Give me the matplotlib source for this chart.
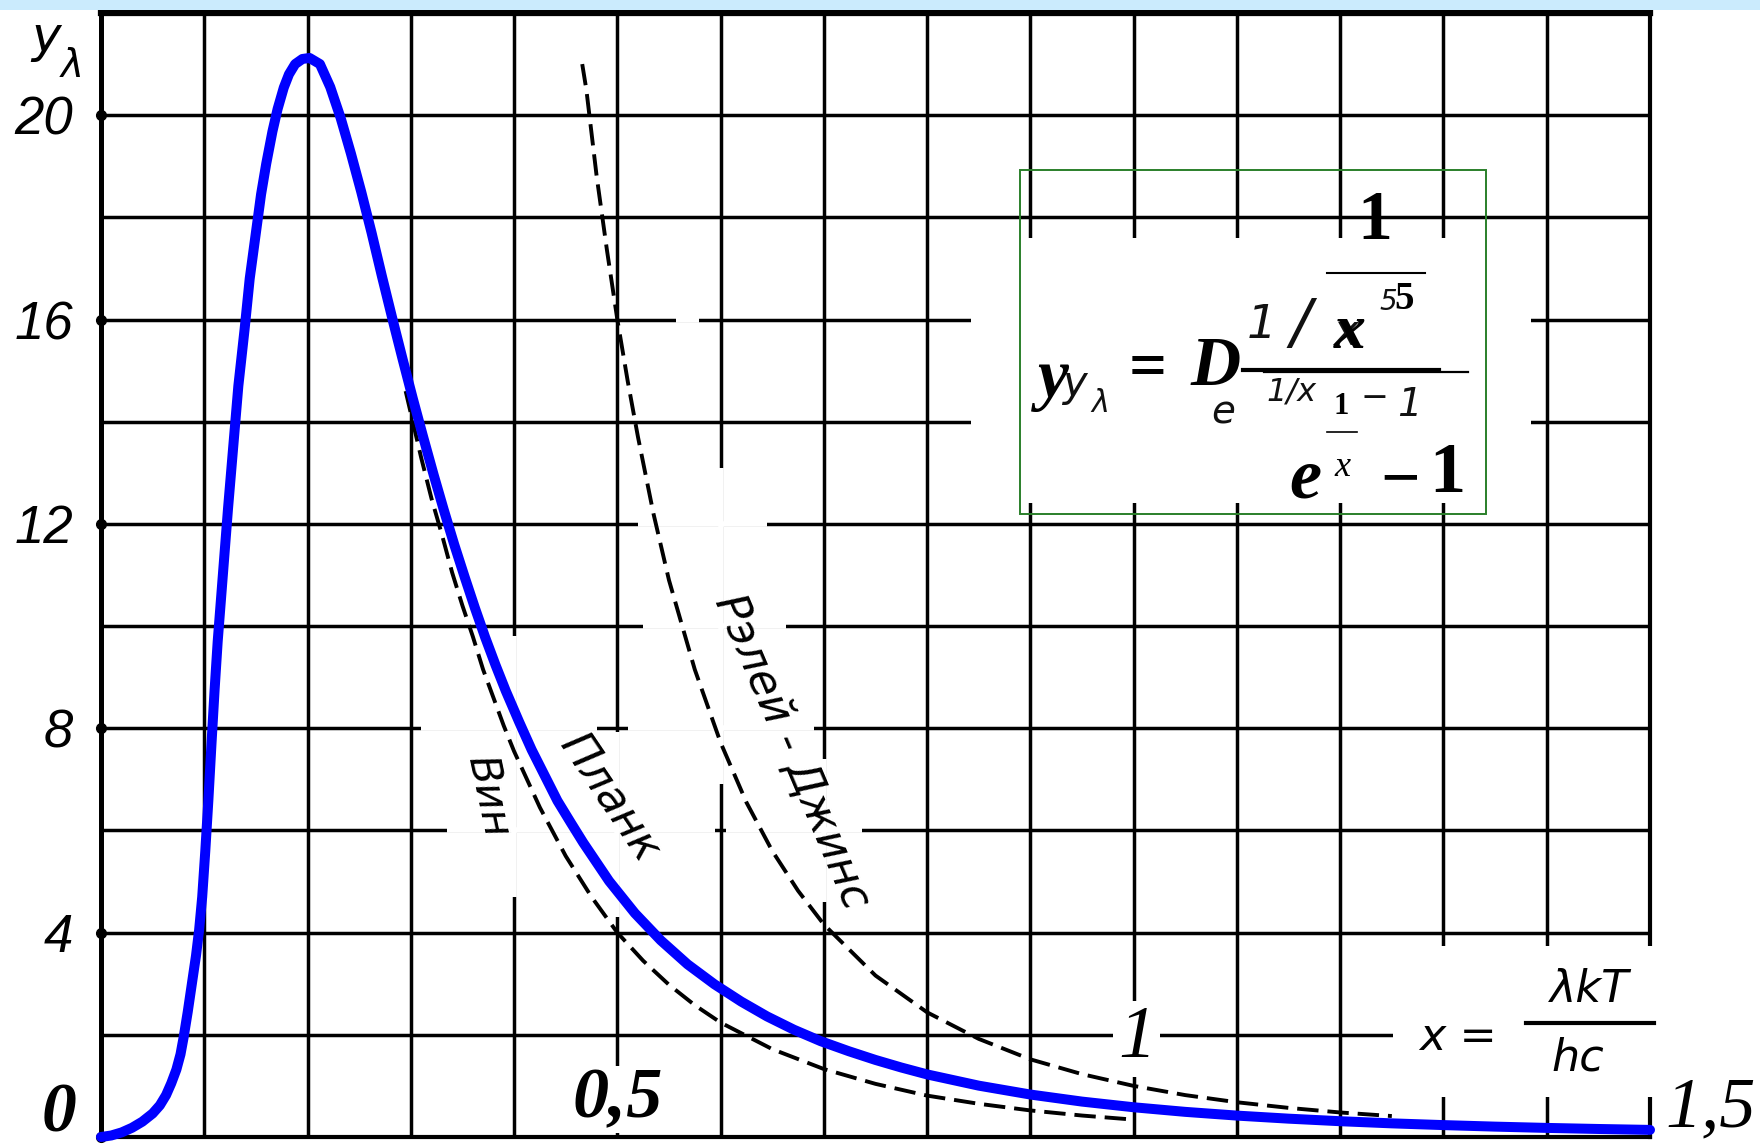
import matplotlib
matplotlib.use("Agg")
import matplotlib.pyplot as plt
from matplotlib.patches import Rectangle
from matplotlib.lines import Line2D

# ── data ─────────────────────────────────────────────────────────────────────
planck_x = [0.000, 0.010, 0.020, 0.030, 0.040, 0.050, 0.057, 0.063, 0.068, 0.073,
            0.077, 0.080, 0.084, 0.088, 0.092, 0.095, 0.098, 0.101, 0.104, 0.107,
            0.110, 0.113, 0.118, 0.123, 0.128, 0.133, 0.139, 0.144, 0.150, 0.155,
            0.160, 0.166, 0.171, 0.177, 0.182, 0.188, 0.195, 0.202, 0.212, 0.222,
            0.232, 0.242, 0.252, 0.262, 0.272, 0.282, 0.292, 0.302, 0.312, 0.322,
            0.332, 0.342, 0.352, 0.362, 0.372, 0.382, 0.392, 0.405, 0.417, 0.430,
            0.442, 0.455, 0.467, 0.480, 0.492, 0.517, 0.542, 0.568, 0.594, 0.620,
            0.645, 0.671, 0.697, 0.724, 0.750, 0.775, 0.800, 0.850, 0.900, 0.950,
            1.000, 1.050, 1.100, 1.150, 1.200, 1.250, 1.300, 1.350, 1.400, 1.450,
            1.500]
planck_y = [0.00, 0.03, 0.09, 0.18, 0.30, 0.46, 0.62, 0.82, 1.05, 1.32,
            1.62, 1.95, 2.45, 3.00, 3.55, 4.05, 4.70, 5.60, 6.60, 7.70,
            8.75, 9.70, 11.0, 12.3, 13.5, 14.7, 15.8, 16.8, 17.7, 18.45,
            19.05, 19.68, 20.12, 20.54, 20.8, 21.0, 21.1, 21.12, 21.0, 20.55,
            19.95, 19.25, 18.5, 17.7, 16.85, 16.03, 15.23, 14.45, 13.7, 12.97,
            12.27, 11.6, 10.97, 10.36, 9.78, 9.24, 8.73, 8.12, 7.58, 7.06,
            6.58, 6.15, 5.76, 5.37, 5.01, 4.38, 3.85, 3.38, 2.99, 2.65,
            2.36, 2.10, 1.875, 1.68, 1.508, 1.36, 1.225, 1.005, 0.831, 0.693,
            0.582, 0.492, 0.419, 0.359, 0.309, 0.267, 0.233, 0.203, 0.178, 0.157,
            0.139]

wien_x = [0.295, 0.310, 0.320, 0.330, 0.340, 0.350, 0.360, 0.370, 0.380, 0.390,
          0.400, 0.425, 0.450, 0.475, 0.500, 0.525, 0.550, 0.575, 0.600, 0.650,
          0.700, 0.750, 0.800, 0.850, 0.900, 0.950, 1.000]
wien_y = [14.6, 13.3, 12.5, 11.8, 11.05, 10.4, 9.8, 9.15, 8.6, 8.05,
          7.55, 6.45, 5.5, 4.7, 4.0, 3.45, 2.98, 2.58, 2.24, 1.72,
          1.33, 1.04, 0.81, 0.65, 0.52, 0.42, 0.34]

rj_x = [0.466, 0.470, 0.480, 0.490, 0.500, 0.510, 0.520, 0.535, 0.550, 0.575,
        0.600, 0.625, 0.650, 0.675, 0.700, 0.750, 0.800, 0.850, 0.900, 0.950,
        1.000, 1.050, 1.100, 1.150, 1.200, 1.250]
rj_y = [21.0, 20.5, 18.8, 17.35, 16.0, 14.8, 13.7, 12.2, 10.9, 9.15,
        7.72, 6.55, 5.6, 4.82, 4.16, 3.16, 2.44, 1.92, 1.52, 1.23,
        1.00, 0.82, 0.68, 0.57, 0.48, 0.41]

x_grid = [i / 10 for i in range(16)]
y_grid = list(range(0, 23, 2))
y_labels = ["", "", "4", "", "8", "", "12", "", "16", "", "20", ""]
y_dots = [0, 4, 8, 12, 16, 20]
x_label_vals = [0.5, 1.0, 1.5]
x_label_txt = ["0,5", "1", "1,5"]

# pieces of the scanned grid that are missing around the curve labels
gaps_h = [(6, 0.335, 0.595), (6, 0.605, 0.737), (8, 0.31, 0.48), (8, 0.51, 0.69),
          (10, 0.525, 0.663), (12, 0.52, 0.645), (16, 0.557, 0.579)]
gaps_v = [(0.4, 4.7, 9.8), (0.5, 4.3, 7.93), (0.6, 6.9, 13.1), (0.7, 4.6, 7.4)]

# ── figure ────────────────────────────────────────────────────────────────────
W, H = 1760, 1145
fig = plt.figure(figsize=(W / 100, H / 100), dpi=100)
fig.patch.set_facecolor("white")


def fx(p):
    return p / W


def fy(p):
    return 1 - p / H


def ftext(px, py, s, **kw):
    kw.setdefault("ha", "center")
    kw.setdefault("va", "center")
    kw.setdefault("color", "black")
    return fig.text(fx(px), fy(py), s, **kw)


def fline(x0, x1, y, lw):
    fig.add_artist(Line2D([fx(x0), fx(x1)], [fy(y), fy(y)], transform=fig.transFigure,
                          color="black", lw=lw, zorder=6))


# light blue strip on top
fig.add_artist(Rectangle((0, fy(10)), 1, 10 / H, transform=fig.transFigure,
                         facecolor="#CBEBFD", edgecolor="none"))

ax = fig.add_axes([fx(101), fy(1137), fx(1650) - fx(101), fy(13) - fy(1137)])
ax.set_xlim(0, 1.5)
ax.set_ylim(0, 22)
ax.set_facecolor("white")

# grid
GRID_LW = 2.5
ax.set_xticks(x_grid)
ax.set_yticks(y_grid)
ax.set_yticklabels(y_labels, fontfamily="Liberation Sans", fontstyle="italic", fontsize=38)
ax.tick_params(axis="both", length=0)
ax.tick_params(axis="x", labelbottom=False)
ax.tick_params(axis="y", pad=20)
ax.grid(True, color="black", lw=GRID_LW)
ax.set_axisbelow(True)
for side, w in [("left", 3.6), ("bottom", 3.0), ("top", 4.5), ("right", 3.0)]:
    ax.spines[side].set_linewidth(w)
    ax.spines[side].set_color("black")

ax.plot([0] * len(y_dots), y_dots, "o", color="black", ms=7, clip_on=False, zorder=3)

for yv, x0, x1 in gaps_h:
    ax.plot([x0, x1], [yv, yv], color="white", lw=GRID_LW + 1.5, solid_capstyle="butt", zorder=2.55)
for xv, y0, y1 in gaps_v:
    ax.plot([xv, xv], [y0, y1], color="white", lw=GRID_LW + 1.5, solid_capstyle="butt", zorder=2.55)

# blank areas of the scanned grid
blank = dict(facecolor="white", edgecolor="none", zorder=2.6, clip_on=False)
ax.add_patch(Rectangle((0.842, 12.4), 0.543, 5.2, **blank))
ax.add_patch(Rectangle((1.251, 0.78), 0.26, 2.95, **blank))

# formula frame
ax.add_patch(Rectangle((0.89, 12.2), 0.451, 6.72, facecolor="none", edgecolor="#2A7F2A",
                       lw=1.4, zorder=2.7))

# curves
dash = (5.5, 2.3)
ax.plot(wien_x, wien_y, color="black", lw=2.8, dashes=dash, zorder=3.5)
ax.plot(rj_x, rj_y, color="black", lw=2.8, dashes=dash, zorder=3.5)
ax.plot(planck_x, planck_y, color="#0000FF", lw=7.2, solid_capstyle="round",
        solid_joinstyle="round", clip_on=False, zorder=4)

# curve labels
hand = dict(fontfamily="DejaVu Sans", fontstyle="oblique", rotation_mode="anchor", zorder=2.65)
ftext(488, 797, "Вин", rotation=-78, fontsize=30, **hand)
ftext(610, 798, "Планк", rotation=-56, fontsize=32, **hand)
ftext(792, 752, "Рэлей - Джинс", rotation=-67, fontsize=32, **hand)

# axis labels
ftext(46, 38, "y", fontfamily="DejaVu Sans", fontstyle="oblique", fontsize=36)
ftext(72, 66, "λ", fontfamily="DejaVu Sans", fontstyle="oblique", fontsize=28)
ftext(59, 1114, "0", fontfamily="Liberation Serif", fontstyle="italic", fontweight="bold", fontsize=50)

serif_bi = dict(fontfamily="Liberation Serif", fontstyle="italic", fontweight="bold")
serif_i = dict(fontfamily="Liberation Serif", fontstyle="italic")
ax.annotate(x_label_txt[0], (x_label_vals[0], 0), xytext=(0, 20), textcoords="offset pixels",
            ha="center", va="baseline", fontsize=52, zorder=5, annotation_clip=False,
            bbox=dict(facecolor="white", edgecolor="none", pad=1), **serif_bi)
ax.annotate(x_label_txt[1], (x_label_vals[1], 0), xytext=(3, 98), textcoords="offset pixels",
            ha="center", va="center", fontsize=54, zorder=5, annotation_clip=False,
            bbox=dict(facecolor="white", edgecolor="none", pad=3), **serif_i)
ax.annotate(x_label_txt[2], (x_label_vals[2], 0), xytext=(15, 11), textcoords="offset pixels",
            ha="left", va="baseline", fontsize=52, zorder=5, annotation_clip=False, **serif_i)

# x = λkT / hc
ftext(1458, 1037, "x =", fontfamily="DejaVu Sans", fontstyle="oblique", fontsize=32)
ftext(1590, 990, "λkT", fontfamily="DejaVu Sans", fontstyle="oblique", fontsize=32)
fline(1526, 1654, 1023, 3.0)
ftext(1578, 1058, "hc", fontfamily="DejaVu Sans", fontstyle="oblique", fontsize=32)

# formula (scanned layer)
scan = dict(fontfamily="DejaVu Sans", fontstyle="oblique", color="#111111")
ftext(1074, 384, "y", fontsize=30, **scan)
ftext(1100, 404, "λ", fontsize=22, **scan)
ftext(1262, 326, "1", fontsize=34, **scan)
ftext(1301, 325, "/", fontsize=44, **scan)
ftext(1345, 333, "x", fontsize=30, **scan)
ftext(1388, 302, "5", fontsize=20, **scan)
fline(1243, 1439, 370, 3.0)
ftext(1223, 412, "e", fontsize=28, **scan)
ftext(1291, 392, "1/x", fontsize=23, **scan)
ftext(1374, 398, "−", fontsize=24, **scan)
ftext(1409, 405, "1", fontsize=28, **scan)

# formula (typed layer)
ftext(1375, 222, "1", fontsize=50, fontfamily="Liberation Serif", fontweight="bold")
fline(1327, 1425, 273, 1.5)
ftext(1350, 333, "x", fontsize=46, **serif_bi)
ftext(1404, 300, "5", fontsize=28, fontfamily="Liberation Serif", fontweight="bold")
fline(1264, 1468, 372, 1.6)
ftext(1053, 380, "y", fontsize=50, **serif_bi)
ftext(1148, 371, "=", fontsize=48, fontfamily="Liberation Serif", fontweight="bold")
ftext(1216, 368, "D", fontsize=50, **serif_bi)
ftext(1341, 406, "1", fontsize=22, fontfamily="Liberation Serif", fontweight="bold")
fline(1327, 1357, 432, 1.2)
ftext(1305, 480, "e", fontsize=52, **serif_bi)
ftext(1342, 467, "x", fontsize=26, **serif_i)
ftext(1400, 482, "−", fontsize=50, fontfamily="Liberation Serif", fontweight="bold")
ftext(1447, 475, "1", fontsize=52, fontfamily="Liberation Serif", fontweight="bold")

fig.savefig("out.png", dpi=100, facecolor="white")
